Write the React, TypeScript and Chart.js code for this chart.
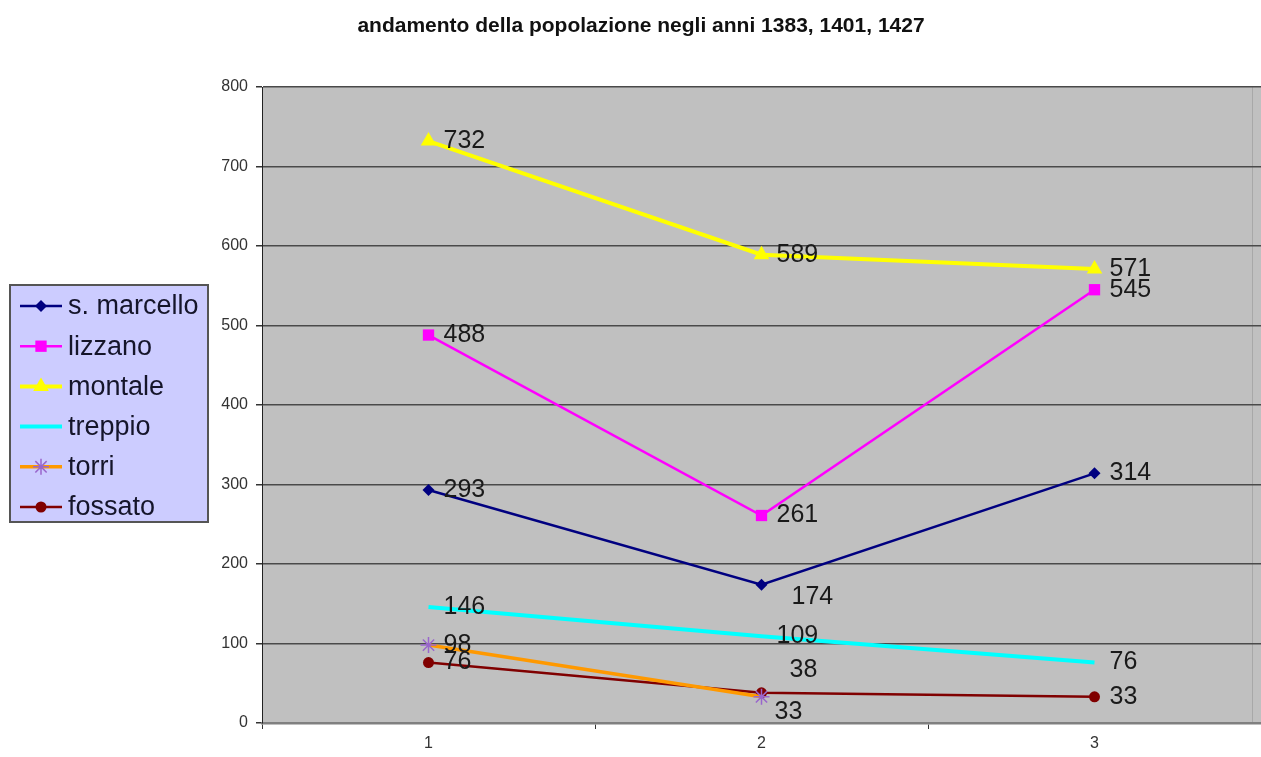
import React, { useEffect, useRef } from "react";
import { Chart, registerables } from "chart.js";

Chart.register(...registerables);

const titleText = "andamento della popolazione negli anni 1383, 1401, 1427";
const categories = ["1", "2", "3"];
const seriesNames = ["s. marcello", "lizzano", "montale", "treppio", "torri", "fossato"];
const sMarcello = [293, 174, 314];
const lizzano = [488, 261, 545];
const montale = [732, 589, 571];
const treppio = [146, 109, 76];
const torri: (number | null)[] = [98, 33, null];
const fossato = [76, 38, 33];
const yMin = 0;
const yMax = 800;
const yStep = 100;

const seriesValues = [sMarcello, lizzano, montale, treppio, torri, fossato];

type Style = {
  line: string;
  width: number;
  point: string | false;
  fill: string;
  stroke: string;
  radius: number;
};

const styles: Style[] = [
  { line: "#000080", width: 2.5, point: "rectRot", fill: "#000080", stroke: "#000080", radius: 6 },
  { line: "#ff00ff", width: 2.5, point: "rect", fill: "#ff00ff", stroke: "#ff00ff", radius: 8 },
  { line: "#ffff00", width: 4, point: "triangle", fill: "#ffff00", stroke: "#ffff00", radius: 9 },
  { line: "#00ffff", width: 4, point: false, fill: "#00ffff", stroke: "#00ffff", radius: 0 },
  { line: "#ff9900", width: 3.5, point: "star", fill: "#9966cc", stroke: "#9966cc", radius: 8 },
  { line: "#800000", width: 2.5, point: "circle", fill: "#800000", stroke: "#800000", radius: 5.5 },
];

// label nudges for a few overlapping labels: "dataset-index": [dx, dy]
const labelNudge: Record<string, [number, number]> = {
  "0-1": [15, 12],
  "5-1": [13, -23],
  "4-1": [-2, 15],
};

const FONT = "Arial, 'Liberation Sans', sans-serif";

const plotBackground = {
  id: "plotBackground",
  beforeDraw(chart: any) {
    const { ctx, chartArea: a } = chart;
    ctx.save();
    ctx.fillStyle = "#c0c0c0";
    ctx.fillRect(a.left, a.top, a.right - a.left, a.bottom - a.top);
    ctx.strokeStyle = "#a8a8a8";
    ctx.lineWidth = 1;
    ctx.beginPath();
    ctx.moveTo(1252.5, a.top);
    ctx.lineTo(1252.5, a.bottom);
    ctx.stroke();
    ctx.restore();
  },
};

const titleDraw = {
  id: "titleDraw",
  afterDraw(chart: any) {
    const { ctx } = chart;
    ctx.save();
    ctx.font = `bold 21px ${FONT}`;
    ctx.fillStyle = "#111";
    ctx.textAlign = "center";
    ctx.textBaseline = "middle";
    ctx.fillText(titleText, 641, 26);
    ctx.restore();
  },
};

const dataLabels = {
  id: "dataLabels",
  afterDatasetsDraw(chart: any) {
    const { ctx } = chart;
    ctx.save();
    ctx.font = `25px ${FONT}`;
    ctx.fillStyle = "#1a1a1a";
    ctx.textAlign = "left";
    ctx.textBaseline = "middle";
    chart.data.datasets.forEach((ds: any, di: number) => {
      const meta = chart.getDatasetMeta(di);
      meta.data.forEach((el: any, i: number) => {
        const v = ds.data[i];
        if (v === null || v === undefined) return;
        const n = labelNudge[`${di}-${i}`] || [0, 0];
        ctx.fillText(String(v), el.x + 15 + n[0], el.y + n[1]);
      });
    });
    ctx.restore();
  },
};

function drawMarker(ctx: CanvasRenderingContext2D, s: Style, x: number, y: number) {
  if (!s.point) return;
  ctx.fillStyle = s.fill;
  ctx.strokeStyle = s.stroke;
  ctx.lineWidth = 1.5;
  ctx.beginPath();
  const r = s.radius;
  if (s.point === "rectRot") {
    ctx.moveTo(x, y - r);
    ctx.lineTo(x + r, y);
    ctx.lineTo(x, y + r);
    ctx.lineTo(x - r, y);
    ctx.closePath();
    ctx.fill();
  } else if (s.point === "rect") {
    const h = r / Math.SQRT2;
    ctx.rect(x - h, y - h, 2 * h, 2 * h);
    ctx.fill();
  } else if (s.point === "triangle") {
    ctx.moveTo(x, y - r);
    ctx.lineTo(x + r * 0.87, y + r * 0.5);
    ctx.lineTo(x - r * 0.87, y + r * 0.5);
    ctx.closePath();
    ctx.fill();
  } else if (s.point === "star") {
    for (let k = 0; k < 4; k++) {
      const ang = (k * Math.PI) / 4;
      ctx.moveTo(x + Math.cos(ang) * r, y + Math.sin(ang) * r);
      ctx.lineTo(x - Math.cos(ang) * r, y - Math.sin(ang) * r);
    }
    ctx.stroke();
  } else if (s.point === "circle") {
    ctx.arc(x, y, r, 0, Math.PI * 2);
    ctx.fill();
  }
}

const customLegend = {
  id: "customLegend",
  afterDraw(chart: any) {
    const { ctx } = chart;
    ctx.save();
    ctx.fillStyle = "#ccccff";
    ctx.fillRect(10, 285, 198, 237);
    ctx.strokeStyle = "#555555";
    ctx.lineWidth = 2;
    ctx.strokeRect(10, 285, 198, 237);
    ctx.font = `27px ${FONT}`;
    ctx.textBaseline = "middle";
    ctx.textAlign = "left";
    seriesNames.forEach((name, i) => {
      const s = styles[i];
      const y = 306 + i * 40.2;
      ctx.strokeStyle = s.line;
      ctx.lineWidth = s.width;
      ctx.beginPath();
      ctx.moveTo(20, y);
      ctx.lineTo(62, y);
      ctx.stroke();
      drawMarker(ctx, s, 41, y);
      ctx.fillStyle = "#15152a";
      ctx.fillText(name, 68, y + 1);
    });
    ctx.restore();
  },
};

export default function App() {
  const ref = useRef<HTMLCanvasElement | null>(null);

  useEffect(() => {
    if (!ref.current) return;
    const chart = new Chart(ref.current, {
      type: "line",
      data: {
        labels: categories,
        datasets: seriesNames.map((name, i) => {
          const s = styles[i];
          return {
            label: name,
            data: seriesValues[i],
            borderColor: s.line,
            borderWidth: s.width,
            backgroundColor: s.fill,
            pointStyle: (s.point || "circle") as any,
            pointRadius: s.point ? s.radius : 0,
            pointHoverRadius: s.point ? s.radius : 0,
            pointBackgroundColor: s.fill,
            pointBorderColor: s.stroke,
            pointBorderWidth: s.point === "star" ? 1.5 : 0,
            tension: 0,
            spanGaps: false,
            fill: false,
          };
        }),
      },
      options: {
        responsive: false,
        animation: false,
        events: [],
        layout: { autoPadding: false, padding: { top: 87, right: 0, bottom: 0, left: 0 } },
        plugins: {
          legend: { display: false },
          title: { display: false },
          tooltip: { enabled: false },
        },
        scales: {
          x: {
            type: "category",
            offset: true,
            afterFit(scale: any) {
              scale.height = 34;
              scale.paddingLeft = 0;
              scale.paddingRight = 0;
            },
            grid: {
              offset: true,
              drawOnChartArea: false,
              drawTicks: true,
              tickLength: 6,
              tickColor: "#333",
            },
            border: { display: true, color: "#808080", width: 2.5 },
            ticks: {
              color: "#333",
              font: { family: FONT, size: 16 },
              padding: 5,
            },
          },
          y: {
            min: yMin,
            max: yMax,
            afterFit(scale: any) {
              scale.width = 262;
            },
            grid: {
              color: "#4a4a4a",
              lineWidth: 1.5,
              drawTicks: true,
              tickLength: 6,
              tickColor: "#333",
            },
            border: { display: true, color: "#222", width: 1 },
            ticks: {
              stepSize: yStep,
              color: "#333",
              font: { family: FONT, size: 16 },
              padding: 8,
            },
          },
        },
      },
      plugins: [plotBackground, dataLabels, customLegend, titleDraw],
    });
    return () => chart.destroy();
  }, []);

  return (
    <div style={{ position: "fixed", left: 0, top: 0, width: 1261, height: 757, background: "#fff" }}>
      <canvas ref={ref} width={1261} height={757} />
    </div>
  );
}
